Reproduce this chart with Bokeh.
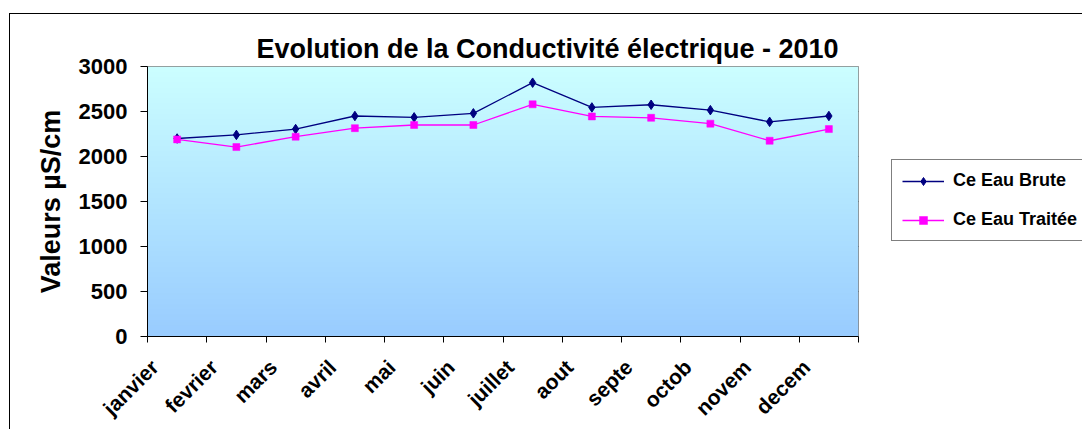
import numpy as np
from bokeh.plotting import figure
from bokeh.layouts import row
from bokeh.models import Range1d, FixedTicker, Legend, LegendItem
from bokeh.embed import file_html
from bokeh.resources import INLINE

# ---- data ----
months = ["janvier", "fevrier", "mars", "avril", "mai", "juin",
          "juillet", "aout", "septe", "octob", "novem", "decem"]
eau_brute = [2200, 2240, 2305, 2450, 2435, 2480, 2820, 2545, 2575, 2515, 2385, 2450]
eau_traitee = [2190, 2105, 2220, 2315, 2350, 2350, 2580, 2445, 2430, 2365, 2175, 2305]
y_ticks = [0, 500, 1000, 1500, 2000, 2500, 3000]
series_names = ["Ce Eau Brute", "Ce Eau Traitée"]
title_text = "Evolution de la Conductivité électrique - 2010"
y_label = "Valeurs µS/cm"

FONT = "Liberation Sans"
BRUTE_COLOR = "#000080"
TRAITEE_COLOR = "#FF00FF"
n = len(months)
xs = [i + 0.5 for i in range(n)]
label_shift = 0.38  # rotated labels end slightly left of the category centre
label_pos = [x - label_shift for x in xs]

p = figure(width=872, height=416,
           x_range=Range1d(0, n), y_range=Range1d(y_ticks[0], y_ticks[-1]),
           output_backend="svg", toolbar_location=None,
           min_border_left=137, min_border_right=24,
           min_border_top=52, min_border_bottom=94)
p.styles = {"margin-top": "13px", "margin-left": "9px",
            "border-top": "1px solid black", "border-left": "1px solid black"}

# gradient background of the plot area
N = 270
top = np.array([204, 255, 255], dtype=float)
bot = np.array([153, 204, 255], dtype=float)
t = np.linspace(0, 1, N)[:, None]
cols = (bot * (1 - t) + top * t).astype(np.uint32)
img = np.empty((N, 1), dtype=np.uint32)
view = img.view(dtype=np.uint8).reshape((N, 1, 4))
view[:, :, 0] = cols[:, 0:1]
view[:, :, 1] = cols[:, 1:2]
view[:, :, 2] = cols[:, 2:3]
view[:, :, 3] = 255
p.image_rgba(image=[img], x=0, y=y_ticks[0], dw=n, dh=y_ticks[-1] - y_ticks[0])

p.outline_line_color = "#808080"
p.outline_line_width = 1
p.background_fill_color = "#CCFFFF"
p.border_fill_color = "white"

# grid
p.xgrid.visible = False
p.ygrid.ticker = FixedTicker(ticks=y_ticks[1:-1])
p.ygrid.grid_line_color = "black"
p.ygrid.grid_line_width = 1

# y axis
p.yaxis.ticker = FixedTicker(ticks=y_ticks)
p.yaxis.axis_line_color = "black"
p.yaxis.major_tick_out = 7
p.yaxis.major_tick_in = 0
p.yaxis.minor_tick_line_color = None
p.yaxis.major_label_text_font = FONT
p.yaxis.major_label_text_font_style = "bold"
p.yaxis.major_label_text_font_size = "22px"
p.yaxis.major_label_text_color = "black"
p.yaxis.major_label_standoff = 13
p.yaxis.axis_label = y_label
p.yaxis.axis_label_text_font = FONT
p.yaxis.axis_label_text_font_style = "bold"
p.yaxis.axis_label_text_font_size = "27px"
p.yaxis.axis_label_text_color = "black"
p.yaxis.axis_label_standoff = 10

# x axis: labels near month centres, ticks at boundaries
p.xaxis.ticker = FixedTicker(ticks=label_pos, minor_ticks=list(range(n + 1)))
p.xaxis.major_label_overrides = {x: m for x, m in zip(label_pos, months)}
p.xaxis.major_tick_line_color = None
p.xaxis.major_tick_out = 0
p.xaxis.major_tick_in = 0
p.xaxis.minor_tick_line_color = "black"
p.xaxis.minor_tick_out = 6
p.xaxis.minor_tick_in = 0
p.xaxis.axis_line_color = "black"
p.xaxis.major_label_orientation = np.pi / 4
p.xaxis.major_label_text_font = FONT
p.xaxis.major_label_text_font_style = "bold"
p.xaxis.major_label_text_font_size = "21px"
p.xaxis.major_label_text_line_height = 0.5
p.xaxis.major_label_text_color = "black"
p.xaxis.major_label_standoff = 21

# title
p.title.text = title_text
p.title.align = "left"
p.title.offset = 109
p.title.text_font = FONT
p.title.text_font_style = "bold"
p.title.text_font_size = "27px"
p.title.text_color = "black"
p.title.standoff = 6

# series
p.line(xs, eau_brute, line_color=BRUTE_COLOR, line_width=1.3)
p.scatter(xs, eau_brute, marker="diamond", size=9.5,
          fill_color=BRUTE_COLOR, line_color=BRUTE_COLOR)
p.line(xs, eau_traitee, line_color=TRAITEE_COLOR, line_width=1.3)
p.scatter(xs, eau_traitee, marker="square", size=7,
          fill_color=TRAITEE_COLOR, line_color=TRAITEE_COLOR, line_width=0.5)

# ---- legend panel (separate figure placed to the right; series kept out of its view) ----
q = figure(width=201, height=416, x_range=Range1d(n + 10, n + 11), y_range=Range1d(0, 1),
           output_backend="svg", toolbar_location=None,
           x_axis_location=None, y_axis_location=None,
           min_border=0, outline_line_color=None)
q.styles = {"margin-top": "13px", "border-top": "1px solid black"}
q.grid.visible = False
q.background_fill_color = "white"
q.border_fill_color = "white"
ql1 = q.line(xs, eau_brute, line_color=BRUTE_COLOR, line_width=1.3)
qs1 = q.scatter(xs, eau_brute, marker="diamond", size=9.5,
                fill_color=BRUTE_COLOR, line_color=BRUTE_COLOR)
ql2 = q.line(xs, eau_traitee, line_color=TRAITEE_COLOR, line_width=1.3)
qs2 = q.scatter(xs, eau_traitee, marker="square", size=7,
                fill_color=TRAITEE_COLOR, line_color=TRAITEE_COLOR, line_width=0.5)

legend = Legend(items=[LegendItem(label=series_names[0], renderers=[ql1, qs1]),
                       LegendItem(label=series_names[1], renderers=[ql2, qs2])],
                location=(10, 95))
legend.border_line_color = "black"
legend.border_line_width = 1
legend.background_fill_color = "white"
legend.background_fill_alpha = 1
legend.padding = 10
legend.margin = 0
legend.spacing = 18
legend.glyph_width = 42
legend.glyph_height = 20
legend.label_height = 20
legend.label_standoff = 9
legend.label_text_font = FONT
legend.label_text_font_style = "bold"
legend.label_text_font_size = "18px"
legend.label_text_color = "black"
q.add_layout(legend, "center")

layout = row(p, q, spacing=0)
open("out.html", "w").write(file_html(layout, INLINE))
